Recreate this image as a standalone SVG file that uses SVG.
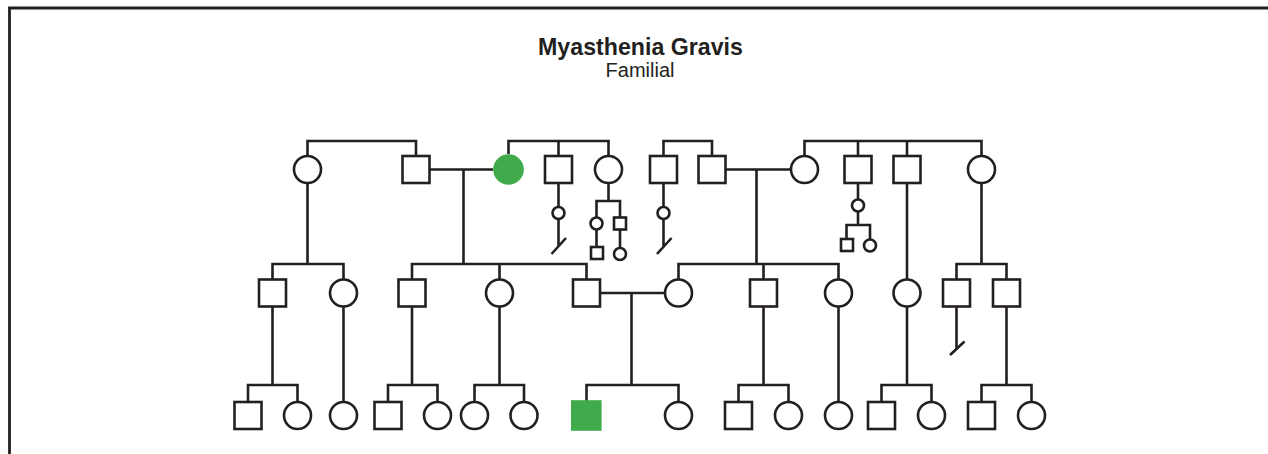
<svg xmlns="http://www.w3.org/2000/svg" width="1268" height="454" viewBox="0 0 1268 454">
<style>
.ln{stroke:#231f20;stroke-width:2.6;fill:none}
.sq,.ci{fill:#fff;stroke:#231f20;stroke-width:2.6}
.aff{fill:#3fab4a;stroke:none}
.t1{font-family:"Liberation Sans",Arial,sans-serif;font-weight:bold;font-size:23.2px;fill:#231f20;text-anchor:middle}
.t2{font-family:"Liberation Sans",Arial,sans-serif;font-size:20px;fill:#231f20;text-anchor:middle}
</style>
<rect width="1268" height="454" fill="#fff"/>
<path class="ln" d="M9.5,454 V8 H1268" style="stroke-width:2.8"/>
<text class="t1" x="640.5" y="55">Myasthenia Gravis</text>
<text class="t2" x="640" y="76.5">Familial</text>
<g id="connectors">
<path class="ln" d="M307.5,156 V141 H416 V156"/>
<path class="ln" d="M508.5,154 V141 H608.5 V156 M558.5,141 V156"/>
<path class="ln" d="M663.5,156 V141 H712 V156"/>
<path class="ln" d="M804.5,156 V141 H981.5 V156 M858,141 V156 M907,141 V156"/>
<path class="ln" d="M429.5,169.5 H493 M463.5,169.5 V264"/>
<path class="ln" d="M725.5,169.5 H791 M756.5,169.5 V264"/>
<path class="ln" d="M307.5,183 V264 M272.5,279.5 V264 H343.5 V279.5"/>
<path class="ln" d="M412,279.5 V264 H586.5 V279.5 M499.5,264 V279.5"/>
<path class="ln" d="M678.5,279.5 V264 H838.5 V279.5 M763.5,264 V279.5"/>
<path class="ln" d="M907,183 V279.5"/>
<path class="ln" d="M981.5,183 V264 M956.5,279.5 V264 H1006.5 V279.5"/>
<path class="ln" d="M600,293 H665 M631.5,293 V385"/>
<path class="ln" d="M586.5,401 V385 H678.5 V402"/>
<path class="ln" d="M272.5,306.5 V385 M248,402 V385 H297.5 V402"/>
<path class="ln" d="M343.5,306.5 V402"/>
<path class="ln" d="M412,306.5 V385 M388,402 V385 H437.5 V402"/>
<path class="ln" d="M499.5,306.5 V385 M474.5,402 V385 H524 V402"/>
<path class="ln" d="M763.5,306.5 V385 M738.5,402 V385 H788.5 V402"/>
<path class="ln" d="M838.5,306.5 V402"/>
<path class="ln" d="M907,306.5 V385 M881.5,402 V385 H931.5 V402"/>
<path class="ln" d="M1006.5,306.5 V385 M981.5,402 V385 H1031.5 V402"/>
<path class="ln" d="M558.5,183 V207 M558.5,219 V246 M551.5,254 L566,238"/>
<path class="ln" d="M608.5,183 V201 M596.5,217.5 V201 H620 V217.5 M596.5,229.5 V247 M620,229.5 V248"/>
<path class="ln" d="M663.5,183 V207 M663.5,219 V246 M657,254 L671.5,238"/>
<path class="ln" d="M858,183 V199.5 M858,211.5 V225 M846.5,239 V225 H870 V239.5"/>
<path class="ln" d="M956.5,306.5 V348 M950,355 L964.5,341.5"/>
</g>
<g id="I1"><circle class="ci" cx="307.5" cy="169.5" r="13.5"/></g>
<g id="I2"><rect class="sq" x="402.5" y="156" width="27" height="27"/></g>
<g id="I3"><circle class="aff" cx="508.5" cy="169.5" r="15.3"/></g>
<g id="I4"><rect class="sq" x="545" y="156" width="27" height="27"/></g>
<g id="I5"><circle class="ci" cx="608.5" cy="169.5" r="13.5"/></g>
<g id="I6"><rect class="sq" x="650" y="156" width="27" height="27"/></g>
<g id="I7"><rect class="sq" x="698.5" y="156" width="27" height="27"/></g>
<g id="I8"><circle class="ci" cx="804.5" cy="169.5" r="13.5"/></g>
<g id="I9"><rect class="sq" x="844.5" y="156" width="27" height="27"/></g>
<g id="I10"><rect class="sq" x="893.5" y="156" width="27" height="27"/></g>
<g id="I11"><circle class="ci" cx="981.5" cy="169.5" r="13.5"/></g>
<g id="s1"><circle class="ci" cx="558.5" cy="213" r="6"/></g>
<g id="s2"><circle class="ci" cx="596.5" cy="223.5" r="6"/></g>
<g id="s3"><rect class="sq" x="614" y="217.5" width="12" height="12"/></g>
<g id="s4"><rect class="sq" x="591" y="247" width="12" height="12"/></g>
<g id="s5"><circle class="ci" cx="620" cy="254" r="6"/></g>
<g id="s6"><circle class="ci" cx="663.5" cy="213" r="6"/></g>
<g id="s7"><circle class="ci" cx="858" cy="205.5" r="6"/></g>
<g id="s8"><rect class="sq" x="841" y="239" width="12" height="12"/></g>
<g id="s9"><circle class="ci" cx="870" cy="245.5" r="6"/></g>
<g id="II1"><rect class="sq" x="259" y="279.5" width="27" height="27"/></g>
<g id="II2"><circle class="ci" cx="343.5" cy="293" r="13.5"/></g>
<g id="II3"><rect class="sq" x="398.5" y="279.5" width="27" height="27"/></g>
<g id="II4"><circle class="ci" cx="499.5" cy="293" r="13.5"/></g>
<g id="II5"><rect class="sq" x="573" y="279.5" width="27" height="27"/></g>
<g id="II6"><circle class="ci" cx="678.5" cy="293" r="13.5"/></g>
<g id="II7"><rect class="sq" x="750" y="279.5" width="27" height="27"/></g>
<g id="II8"><circle class="ci" cx="838.5" cy="293" r="13.5"/></g>
<g id="II9"><circle class="ci" cx="907" cy="293" r="13.5"/></g>
<g id="II10"><rect class="sq" x="943" y="279.5" width="27" height="27"/></g>
<g id="II11"><rect class="sq" x="993" y="279.5" width="27" height="27"/></g>
<g id="III1"><rect class="sq" x="234.5" y="402" width="27" height="27"/></g>
<g id="III2"><circle class="ci" cx="297.5" cy="415.5" r="13.5"/></g>
<g id="III3"><circle class="ci" cx="343.5" cy="415.5" r="13.5"/></g>
<g id="III4"><rect class="sq" x="374.5" y="402" width="27" height="27"/></g>
<g id="III5"><circle class="ci" cx="437.5" cy="415.5" r="13.5"/></g>
<g id="III6"><circle class="ci" cx="474.5" cy="415.5" r="13.5"/></g>
<g id="III7"><circle class="ci" cx="524" cy="415.5" r="13.5"/></g>
<g id="III8"><rect class="aff" x="571" y="400.2" width="30.6" height="30.6"/></g>
<g id="III9"><circle class="ci" cx="678.5" cy="415.5" r="13.5"/></g>
<g id="III10"><rect class="sq" x="725" y="402" width="27" height="27"/></g>
<g id="III11"><circle class="ci" cx="788.5" cy="415.5" r="13.5"/></g>
<g id="III12"><circle class="ci" cx="838.5" cy="415.5" r="13.5"/></g>
<g id="III13"><rect class="sq" x="868" y="402" width="27" height="27"/></g>
<g id="III14"><circle class="ci" cx="931.5" cy="415.5" r="13.5"/></g>
<g id="III15"><rect class="sq" x="968" y="402" width="27" height="27"/></g>
<g id="III16"><circle class="ci" cx="1031.5" cy="415.5" r="13.5"/></g>
</svg>
